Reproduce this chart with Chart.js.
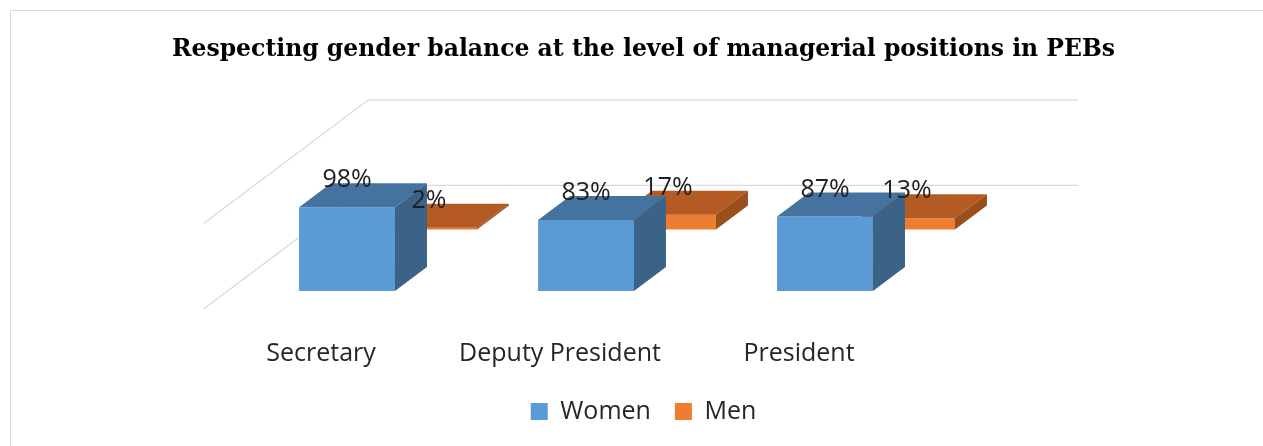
<!DOCTYPE html>
<html>
<head>
<meta charset="utf-8">
<script src="https://cdn.jsdelivr.net/npm/chart.js@4"></script>
<style>
  html, body { margin: 0; padding: 0; background: #fff; overflow: hidden; }
  #frame {
    position: absolute; left: 10px; top: 10px;
    width: 1270px; height: 460px;
    border: 1px solid #d9d9d9; box-sizing: border-box;
  }
  #wrap { position: absolute; left: 0; top: 0; width: 1263px; height: 446px; }
</style>
</head>
<body>
<div id="frame"></div>
<div id="wrap"><canvas id="chart" width="1263" height="446"></canvas></div>
<script>
// ============================================================
// Data
// ============================================================
const categories = ["Secretary", "Deputy President", "President"];
const womenValues = [98, 83, 87];
const menValues = [2, 17, 13];
const gridValues = [0, 100];

// ============================================================
// Look
// ============================================================
const FONT = "'Open Sans', sans-serif";
const DX = 32, DY = -24;          // depth of one box (oblique projection)
const FLOOR_FRONT = -0.75;        // floor front edge, in box depths
const BACK_WALL = 4.4;            // back wall, in box depths
const Y_MAX = 223;
const MEN_SHIFT = 72;             // men row sits deeper, so its base is higher

const faces = [
  { front: "#5b9bd5", top: "#44739f", side: "#3a6387" },
  { front: "#ed7d31", top: "#b35b23", side: "#9a4e1c" },
];

function poly(ctx, pts, color) {
  ctx.beginPath();
  ctx.moveTo(pts[0][0], pts[0][1]);
  pts.slice(1).forEach((p) => ctx.lineTo(p[0], p[1]));
  ctx.closePath();
  ctx.fillStyle = color;
  ctx.fill();
}

// ============================================================
// 3D boxes, walls and value labels
// ============================================================
const box3d = {
  id: "box3d",
  beforeDatasetsDraw(chart) {
    const { ctx } = chart;
    const xs = chart.scales.x, ys = chart.scales.y;
    const cw = xs.getPixelForValue(1) - xs.getPixelForValue(0);
    const first = chart.getDatasetMeta(0).data[0];
    const left = first.x - cw / 2;
    const right = left + cw * categories.length - 7;
    ctx.save();
    ctx.strokeStyle = "#d9d9d9";
    ctx.lineWidth = 1.2;
    gridValues.forEach((v) => {
      const py = ys.getPixelForValue(v);
      ctx.beginPath();
      ctx.moveTo(left + FLOOR_FRONT * DX, py + FLOOR_FRONT * DY);
      ctx.lineTo(left + BACK_WALL * DX, py + BACK_WALL * DY);
      ctx.lineTo(right + BACK_WALL * DX, py + BACK_WALL * DY);
      ctx.stroke();
    });
    ctx.restore();
  },
  afterDatasetDraw(chart, args) {
    const { ctx } = chart;
    const f = faces[args.index];
    args.meta.data.forEach((bar) => {
      const { x, y, base, width } = bar.getProps(["x", "y", "base", "width"], true);
      const l = x - width / 2, r = x + width / 2;
      poly(ctx, [[l, y], [r, y], [r + DX, y + DY], [l + DX, y + DY]], f.top);
      poly(ctx, [[r, y], [r + DX, y + DY], [r + DX, base + DY], [r, base]], f.side);
    });
  },
  afterDatasetsDraw(chart) {
    const { ctx } = chart;
    ctx.save();
    ctx.font = "25px " + FONT;
    ctx.fillStyle = "#1f1f1f";
    ctx.textAlign = "center";
    ctx.textBaseline = "middle";
    chart.data.datasets.forEach((ds, i) => {
      chart.getDatasetMeta(i).data.forEach((bar, j) => {
        ctx.fillText(ds.data[j] + "%", bar.x, bar.y - 27);
      });
    });
    ctx.restore();
  },
};

// ============================================================
// Chart
// ============================================================
new Chart(document.getElementById("chart"), {
  type: "bar",
  data: {
    labels: categories,
    datasets: [
      {
        label: "Women",
        data: womenValues,
        yAxisID: "y",
        backgroundColor: faces[0].front,
        categoryPercentage: 0.686,
        barPercentage: 1.17,
      },
      {
        label: "Men",
        data: menValues,
        yAxisID: "y2",
        backgroundColor: faces[1].front,
        categoryPercentage: 0.686,
        barPercentage: 1.17,
      },
    ],
  },
  options: {
    responsive: false,
    animation: false,
    layout: { padding: { left: 24, bottom: 12 } },
    plugins: {
      title: {
        display: true,
        text: "Respecting gender balance at the level of managerial positions in PEBs",
        color: "#000",
        font: { family: "'DejaVu Serif', serif", size: 23.5, weight: "bold" },
        padding: { top: 36, bottom: 36 },
      },
      legend: {
        position: "bottom",
        labels: {
          color: "#262626",
          font: { family: FONT, size: 25 },
          boxWidth: 17,
          boxHeight: 17,
          padding: 24,
        },
      },
      tooltip: { enabled: false },
    },
    scales: {
      x: {
        grid: { display: false, drawTicks: false },
        border: { display: false },
        ticks: {
          color: "#262626",
          font: { family: FONT, size: 25 },
          padding: 48,
          labelOffset: -67,
        },
        afterFit: (s) => { s.height = 84; },
      },
      y: {
        min: 0,
        max: Y_MAX,
        grid: { display: false, drawTicks: false },
        border: { display: false },
        ticks: { display: false },
        afterFit: (s) => { s.width = 244.5; },
      },
      y2: {
        position: "right",
        min: -MEN_SHIFT,
        max: Y_MAX - MEN_SHIFT,
        grid: { display: false, drawTicks: false },
        border: { display: false },
        ticks: { display: false },
        afterFit: (s) => { s.width = 277.5; },
      },
    },
  },
  plugins: [box3d],
});
</script>
</body>
</html>
